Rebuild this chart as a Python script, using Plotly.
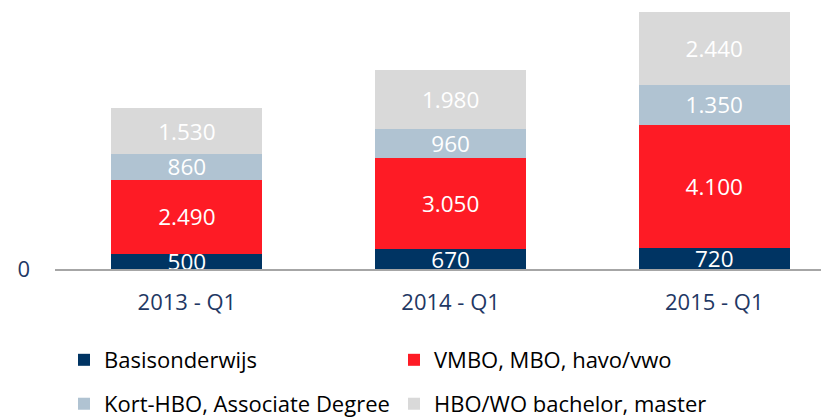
import plotly.graph_objects as go

categories = ["2013 - Q1", "2014 - Q1", "2015 - Q1"]
basis = [500, 670, 720]
vmbo = [2490, 3050, 4100]
korthbo = [860, 960, 1350]
hbowo = [1530, 1980, 2440]

series_names = ["Basisonderwijs", "VMBO, MBO, havo/vwo",
                "Kort-HBO, Associate Degree", "HBO/WO bachelor, master"]
series_values = [basis, vmbo, korthbo, hbowo]
colors = ["#003463", "#FE1B25", "#B0C3D2", "#D9D9D9"]
legends = ["legend", "legend", "legend2", "legend2"]

FONT = "'Open Sans', Lato, sans-serif"

fig = go.Figure()
for name, vals, col, lg in zip(series_names, series_values, colors, legends):
    fig.add_trace(go.Bar(
        x=categories, y=vals, name=name, marker_color=col,
        marker_line_width=0, width=0.573,
        text=vals, texttemplate="%{y:,}", textposition="inside",
        insidetextanchor="middle", textangle=0,
        textfont=dict(color="white", size=22.5, family=FONT),
        legend=lg,
    ))

legend_common = dict(orientation="h", x=0.0116, xanchor="left", yanchor="middle",
                     entrywidth=285, entrywidthmode="pixels",
                     font=dict(size=22, color="#000000", family=FONT),
                     itemclick=False, traceorder="normal")

# page body has an 8px default margin; figure is sized to fit the 829x420 window
fig.update_layout(
    barmode="stack",
    separators=",.",
    width=821, height=412,
    margin=dict(l=47, r=0, t=0, b=151, autoexpand=False),
    plot_bgcolor="white", paper_bgcolor="white",
    uniformtext=dict(minsize=22.5, mode="show"),
    font=dict(family=FONT, size=20, color="#000000"),
    showlegend=True,
    legend=dict(y=-0.3487, **legend_common),
    legend2=dict(y=-0.517, **legend_common),
)
fig.update_xaxes(range=[-0.5, 2.435], showline=True, linecolor="#A6A6A6", linewidth=2,
                 ticks="", tickfont=dict(size=22, color="#1F3864", family=FONT),
                 ticklabelstandoff=13, showgrid=False, zeroline=False)
fig.update_yaxes(range=[0, 8744], tickvals=[0], ticktext=["0"], showline=False,
                 showgrid=False, zeroline=False, ticks="",
                 tickfont=dict(size=22, color="#1F3864", family=FONT),
                 ticklabelstandoff=24)

fig.write_html("out.html")
